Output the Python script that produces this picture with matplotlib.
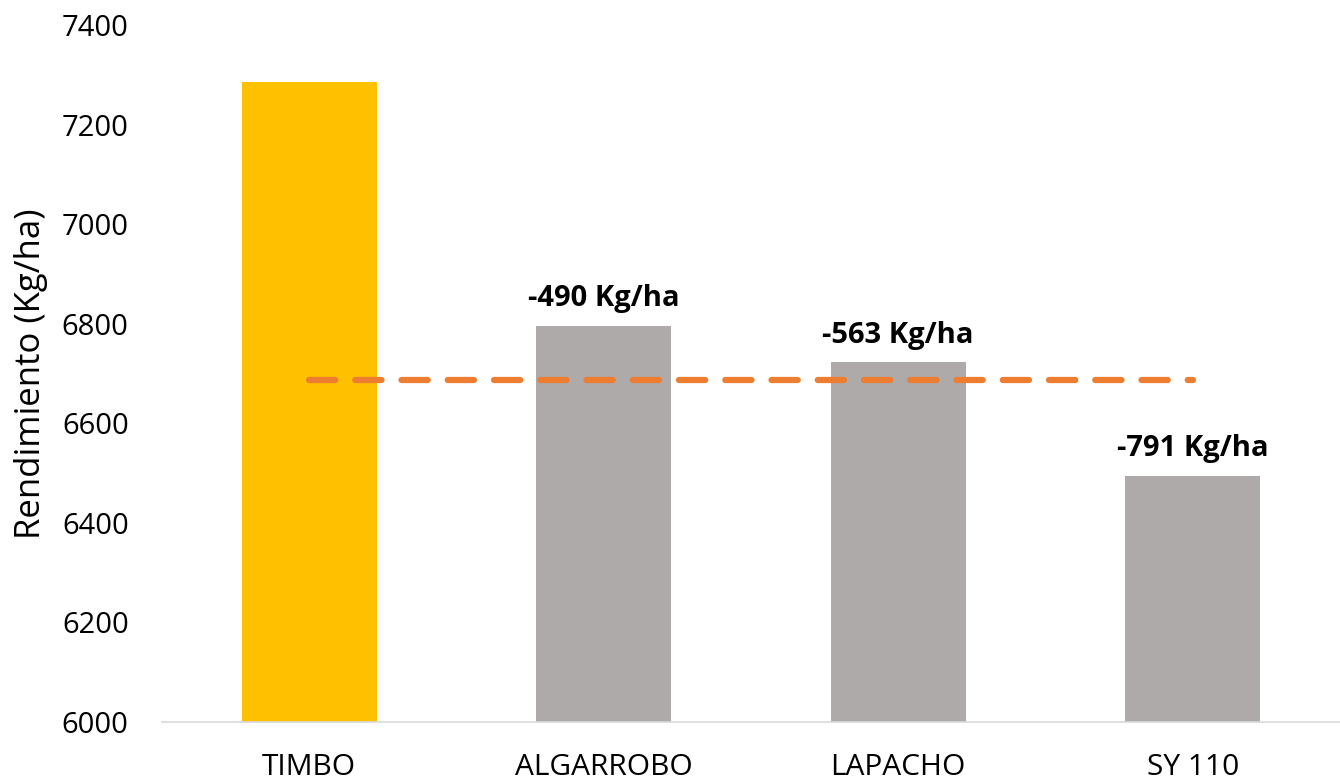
import matplotlib.pyplot as plt
import numpy as np

plt.rcParams.update({
    'font.family': ['Open Sans', 'DejaVu Sans'],
    'axes.spines.top': False,
    'axes.spines.right': False,
    'axes.spines.left': False,
})

GOLD = '#FFC000'
GREY = '#AEAAAA'
ORANGE = '#ED7D31'

# data
hybrids = ['TIMBO', 'ALGARROBO', 'LAPACHO', 'SY 110']
yields = [7286, 6796, 6723, 6495]
diffs = [None, -490, -563, -791]
mean_line = [6687, 6687, 6687, 6687]

fig = plt.figure(figsize=(13.4, 7.82), dpi=100)
ax = fig.add_axes([162 / 1340, 1 - 722 / 782, 1 - 162 / 1340, (722 - 25) / 782])

x = np.arange(len(hybrids))
colors = [GOLD] + [GREY] * (len(hybrids) - 1)
bars = ax.bar(x, yields, width=0.457, color=colors, edgecolor='none', zorder=2)

ax.plot(x, mean_line, color=ORANGE, lw=4.5, ls=(0, (4.2, 3.2)),
        dash_capstyle='round', zorder=3)

# Value labels
for bar, d in zip(bars, diffs):
    if d is None:
        continue
    ax.annotate(f'{d} Kg/ha', (bar.get_x() + bar.get_width() / 2, bar.get_height()),
                xytext=(0, 9), textcoords='offset points', ha='center', va='bottom',
                fontsize=21, fontweight='bold', color='black')

ax.set_ylim(6000, 7400)
ax.set_xlim(-0.5, 3.5)
ax.set_yticks(np.arange(6000, 7401, 200))
ax.set_xticks(x)
ax.set_xticklabels(hybrids)
ax.tick_params(axis='y', length=0, labelsize=21, pad=24)
ax.tick_params(axis='x', length=0, labelsize=21.5, pad=22)
ax.spines['bottom'].set_color('#D9D9D9')
ax.spines['bottom'].set_linewidth(1.2)
ax.set_ylabel('Rendimiento (Kg/ha)', fontsize=25, labelpad=10)

plt.savefig('out.png', dpi=100, facecolor='white')
plt.close()
